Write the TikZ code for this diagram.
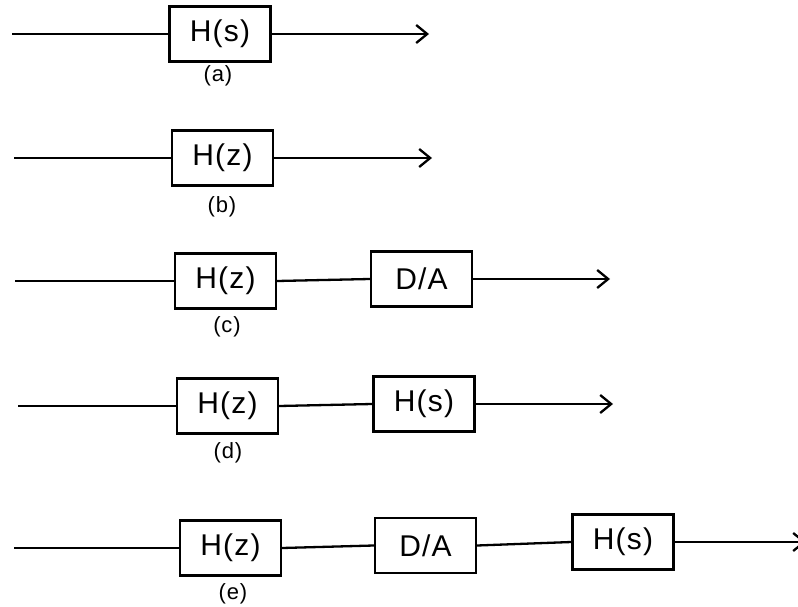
\documentclass[tikz,border=0pt]{standalone}
\usepackage{fontspec}
\setmainfont{Liberation Sans}[LetterSpace=4]
\usetikzlibrary{arrows.meta}
\begin{document}
\begin{tikzpicture}[x=1pt,y=-1pt,
  line width=2.3pt,
  blk/.style={draw, line width=2.3pt, minimum width=101pt, minimum height=55pt, inner sep=0pt,
    font=\fontsize{30}{30}\selectfont},
  lbl/.style={inner sep=0pt, font=\fontsize{22}{22}\selectfont},
  arr/.style={-{Straight Barb[length=11pt,width=18pt]}}]
\useasboundingbox (0,0) rectangle (798,607);
% (a)
\node[blk] (a1) at (220,34) {H(s)};
\coordinate (ain) at (12,34);
\coordinate (aout) at (429,34);
\draw (ain) -- (a1.west);
\draw[arr] (a1.east) -- (aout);
\node[lbl] (la) at (218,76) {(a)};
% (b)
\node[blk] (b1) at (222.5,158) {H(z)};
\coordinate (bin) at (14,158);
\coordinate (bout) at (432,158);
\draw (bin) -- (b1.west);
\draw[arr] (b1.east) -- (bout);
\node[lbl] (lb) at (222,207) {(b)};
% (c)
\node[blk] (c1) at (225.5,281) {H(z)};
\node[blk] (c2) at (421.5,279) {D/A};
\coordinate (cin) at (15,281);
\coordinate (cout) at (610,279);
\draw (cin) -- (c1.west);
\draw (c1.east) -- (c2.west);
\draw[arr] (c2.east) -- (cout);
\node[lbl] (lc) at (227,327) {(c)};
% (d)
\node[blk] (d1) at (227.5,406) {H(z)};
\node[blk] (d2) at (424,404) {H(s)};
\coordinate (din) at (18,406);
\coordinate (dout) at (613,404);
\draw (din) -- (d1.west);
\draw (d1.east) -- (d2.west);
\draw[arr] (d2.east) -- (dout);
\node[lbl] (ld) at (228,453) {(d)};
% (e)
\node[blk] (e1) at (230.5,548) {H(z)};
\node[blk] (e2) at (425.5,545.5) {D/A};
\node[blk] (e3) at (623,542) {H(s)};
\coordinate (ein) at (14,548);
\coordinate (eout) at (806,542);
\draw (ein) -- (e1.west);
\draw (e1.east) -- (e2.west);
\draw (e2.east) -- (e3.west);
\draw[arr] (e3.east) -- (eout);
\node[lbl] (le) at (233,594) {(e)};
\end{tikzpicture}
\end{document}
